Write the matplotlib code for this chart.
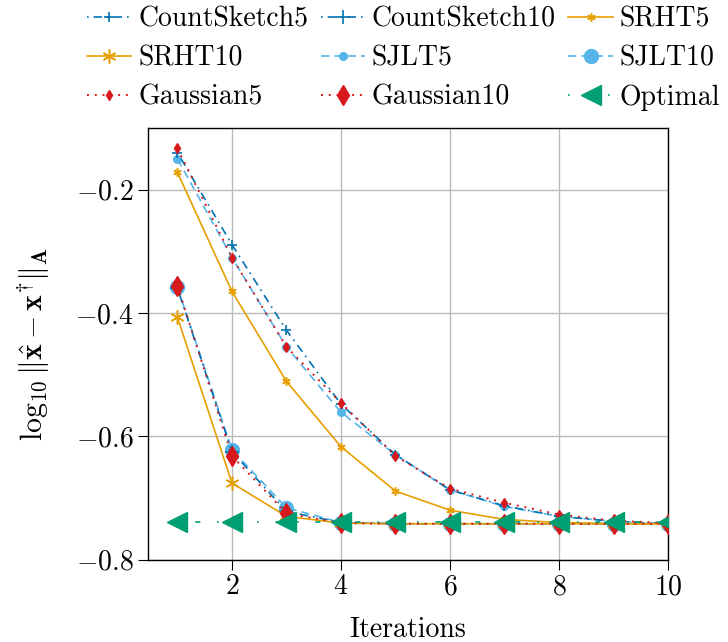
import matplotlib
matplotlib.use('Agg')
import matplotlib.pyplot as plt
import numpy as np

plt.rcParams['font.family'] = 'serif'
plt.rcParams['font.serif'] = ['cmr10']
plt.rcParams['mathtext.fontset'] = 'cm'
plt.rcParams['axes.formatter.use_mathtext'] = True
plt.rcParams['font.size'] = 20

iterations = np.arange(1, 11)

countsketch5 = [-0.140, -0.289, -0.428, -0.548, -0.630, -0.687, -0.713, -0.730, -0.738, -0.742]
countsketch10 = [-0.360, -0.625, -0.722, -0.740, -0.742, -0.742, -0.742, -0.742, -0.742, -0.742]
srht5 = [-0.172, -0.365, -0.511, -0.617, -0.689, -0.720, -0.735, -0.740, -0.742, -0.742]
srht10 = [-0.407, -0.676, -0.730, -0.741, -0.742, -0.742, -0.742, -0.742, -0.742, -0.742]
sjlt5 = [-0.150, -0.310, -0.455, -0.561, -0.630, -0.687, -0.714, -0.730, -0.738, -0.742]
sjlt10 = [-0.358, -0.622, -0.716, -0.740, -0.742, -0.742, -0.742, -0.742, -0.742, -0.742]
gaussian5 = [-0.133, -0.310, -0.455, -0.546, -0.632, -0.685, -0.708, -0.727, -0.737, -0.741]
gaussian10 = [-0.356, -0.632, -0.725, -0.741, -0.742, -0.742, -0.742, -0.742, -0.742, -0.742]
optimal = [-0.739] * 10

blue = '#0072B2'
orange = '#E69F00'
skyblue = '#56B4E9'
red = '#D7191C'
green = '#009E73'

fig = plt.figure(figsize=(7.28, 6.42), dpi=100)
ax = fig.add_axes([0.2033, 0.1285, 0.7143, 0.672])

h = {}
h['CountSketch5'], = ax.plot(iterations, countsketch5, color=blue, ls=(0, (1, 3, 5, 3)), lw=1.2,
                             marker='+', ms=7, mew=1.2, zorder=3)
h['CountSketch10'], = ax.plot(iterations, countsketch10, color=blue, ls=(0, (1, 3, 5, 3)), lw=1.2,
                              marker='+', ms=10, mew=1.2, zorder=3)
h['SRHT5'], = ax.plot(iterations, srht5, color=orange, ls='-', lw=1.2,
                      marker=(6, 2, 0), ms=6, mew=1.1, zorder=3)
h['SRHT10'], = ax.plot(iterations, srht10, color=orange, ls='-', lw=1.2,
                       marker=(6, 2, 0), ms=10, mew=1.1, zorder=3)
h['SJLT5'], = ax.plot(iterations, sjlt5, color=skyblue, ls=(0, (5, 3)), lw=1.2,
                      marker='o', ms=5.5, zorder=2)
h['SJLT10'], = ax.plot(iterations, sjlt10, color=skyblue, ls=(0, (5, 3)), lw=1.2,
                       marker='o', ms=10, zorder=2)
h['Gaussian5'], = ax.plot(iterations, gaussian5, color=red, ls=(0, (1, 3)), lw=1.4,
                          marker='d', ms=5.5, zorder=4)
h['Gaussian10'], = ax.plot(iterations, gaussian10, color=red, ls=(0, (1, 3)), lw=1.4,
                           marker='d', ms=10, zorder=4)
h['Optimal'], = ax.plot(iterations, optimal, color=green, ls=(0, (1, 10, 3, 10)), lw=1.2,
                        marker='<', ms=15, zorder=5)

ax.set_xlim(0.46, 10)
ax.set_ylim(-0.8, -0.1)
ax.set_xticks([2, 4, 6, 8, 10])
ax.set_yticks([-0.8, -0.6, -0.4, -0.2])
ax.grid(True, color='#bbbbbb', lw=1)
ax.set_axisbelow(True)
ax.tick_params(direction='out', length=7, width=0.8, labelsize=20)
for s in ax.spines.values():
    s.set_linewidth(1.0)
ax.set_xlabel('Iterations', fontsize=20, labelpad=12)
ax.set_ylabel(r'$\log_{10}\|\hat{\mathbf{x}} - \mathbf{x}^{\dagger}\|_{\mathbf{A}}$', fontsize=21.5,
              labelpad=17)

# legend is filled column by column, so order the entries to read row-wise
order = ['CountSketch5', 'SRHT10', 'Gaussian5',
         'CountSketch10', 'SJLT5', 'Gaussian10',
         'SRHT5', 'SJLT10', 'Optimal']
fig.legend([h[k] for k in order], order, ncol=3, loc='upper left',
           bbox_to_anchor=(0.119, 0.99), frameon=False, fontsize=20,
           handlelength=1.6, handletextpad=0.25, columnspacing=0.45,
           labelspacing=0.45, borderaxespad=0, borderpad=0)

fig.savefig('out.png', dpi=100)
